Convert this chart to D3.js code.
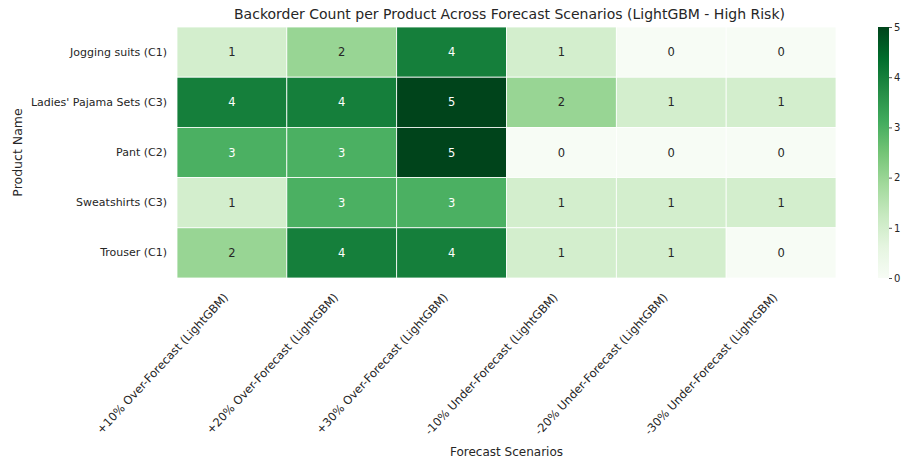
<!DOCTYPE html>
<html>
<head>
<meta charset="utf-8">
<script src="https://cdn.jsdelivr.net/npm/d3@7"></script>
<style>
  html, body { margin: 0; padding: 0; background: #fff; }
  svg { display: block; font-family: "DejaVu Sans", sans-serif; }
</style>
</head>
<body>
<svg id="chart" width="904" height="461"></svg>
<script>
// Backorder counts per product (rows) and forecast scenario (columns)
const products = [
  "Jogging suits (C1)",
  "Ladies' Pajama Sets (C3)",
  "Pant (C2)",
  "Sweatshirts (C3)",
  "Trouser (C1)"
];
const scenarios = [
  "+10% Over-Forecast (LightGBM)",
  "+20% Over-Forecast (LightGBM)",
  "+30% Over-Forecast (LightGBM)",
  "-10% Under-Forecast (LightGBM)",
  "-20% Under-Forecast (LightGBM)",
  "-30% Under-Forecast (LightGBM)"
];
const countsJogging   = [1, 2, 4, 1, 0, 0];
const countsPajama    = [4, 4, 5, 2, 1, 1];
const countsPant      = [3, 3, 5, 0, 0, 0];
const countsSweat     = [1, 3, 3, 1, 1, 1];
const countsTrouser   = [2, 4, 4, 1, 1, 0];
const colorbarTicks   = [0, 1, 2, 3, 4, 5];

const rows = [countsJogging, countsPajama, countsPant, countsSweat, countsTrouser];
const cells = [];
rows.forEach((vals, i) => vals.forEach((v, j) => cells.push({ product: products[i], scenario: scenarios[j], value: v })));

const svg = d3.select("#chart");
const m = { left: 177, right: 836, top: 27, bottom: 278 };

const x = d3.scaleBand().domain(scenarios).range([m.left, m.right]).padding(0);
const y = d3.scaleBand().domain(products).range([m.top, m.bottom]).padding(0);

// ColorBrewer "Greens" ramp, linearly interpolated
const greens = ["#f7fcf5","#e5f5e0","#c7e9c0","#a1d99b","#74c476","#41ab5d","#238b45","#006d2c","#00441b"];
const vmin = 0, vmax = 5;
const color = d3.scaleLinear()
  .domain(greens.map((_, i) => vmin + (vmax - vmin) * i / (greens.length - 1)))
  .range(greens)
  .interpolate(d3.interpolateRgb);

const textDark = "#262626";

// Heatmap cells
svg.append("g").selectAll("rect").data(cells).join("rect")
  .attr("x", d => x(d.scenario))
  .attr("y", d => y(d.product))
  .attr("width", x.bandwidth())
  .attr("height", y.bandwidth())
  .attr("fill", d => color(d.value))
  .attr("stroke", "#ffffff")
  .attr("stroke-width", 0.8);

// Cell annotations
svg.append("g").selectAll("text").data(cells).join("text")
  .attr("x", d => x(d.scenario) + x.bandwidth() / 2)
  .attr("y", d => y(d.product) + y.bandwidth() / 2)
  .attr("text-anchor", "middle")
  .attr("dominant-baseline", "central")
  .attr("font-size", 11.5)
  .attr("fill", d => d.value >= 3 ? "#ffffff" : textDark)
  .text(d => d.value);

// Y axis tick labels
const yAxis = svg.append("g").attr("transform", `translate(${m.left},0)`)
  .call(d3.axisLeft(y).tickSize(0).tickPadding(10));
yAxis.select(".domain").remove();
yAxis.selectAll("text").attr("font-size", 11).attr("fill", textDark)
  .attr("font-family", "DejaVu Sans, sans-serif");

// X axis tick labels, rotated
const xAxis = svg.append("g").attr("transform", `translate(0,${m.bottom})`)
  .call(d3.axisBottom(x).tickSize(0).tickPadding(0));
xAxis.select(".domain").remove();
xAxis.selectAll("text")
  .attr("font-size", 11.5).attr("fill", textDark)
  .attr("font-family", "DejaVu Sans, sans-serif")
  .attr("text-anchor", "end")
  .attr("dy", null)
  .attr("y", 0)
  .attr("transform", "translate(-3,20) rotate(-47)");

// Axis titles
svg.append("text")
  .attr("x", (m.left + m.right) / 2).attr("y", 456)
  .attr("text-anchor", "middle").attr("font-size", 12).attr("fill", textDark)
  .text("Forecast Scenarios");
svg.append("text")
  .attr("transform", `translate(22,${(m.top + m.bottom) / 2}) rotate(-90)`)
  .attr("text-anchor", "middle").attr("font-size", 12.5).attr("fill", textDark)
  .text("Product Name");

// Title
svg.append("text")
  .attr("x", (m.left + m.right) / 2 + 3).attr("y", 19)
  .attr("text-anchor", "middle").attr("font-size", 14).attr("fill", textDark)
  .text("Backorder Count per Product Across Forecast Scenarios (LightGBM - High Risk)");

// Colorbar
const cb = { x: 878, w: 11 };
const cbScale = d3.scaleLinear().domain([vmin, vmax]).range([m.bottom, m.top]);
const defs = svg.append("defs");
const grad = defs.append("linearGradient").attr("id", "cbGrad")
  .attr("x1", 0).attr("y1", 1).attr("x2", 0).attr("y2", 0);
greens.forEach((c, i) => grad.append("stop")
  .attr("offset", i / (greens.length - 1)).attr("stop-color", c));
svg.append("rect")
  .attr("x", cb.x).attr("y", m.top)
  .attr("width", cb.w).attr("height", m.bottom - m.top)
  .attr("fill", "url(#cbGrad)");
const cbAxis = svg.append("g").attr("transform", `translate(${cb.x + cb.w},0)`)
  .call(d3.axisRight(cbScale).tickValues(colorbarTicks).tickFormat(d3.format("d"))
    .tickSize(3).tickPadding(2));
cbAxis.select(".domain").remove();
cbAxis.selectAll("line").attr("stroke", textDark).attr("stroke-width", 0.8);
cbAxis.selectAll("text").attr("font-size", 10).attr("fill", textDark)
  .attr("font-family", "DejaVu Sans, sans-serif");
</script>
</body>
</html>
